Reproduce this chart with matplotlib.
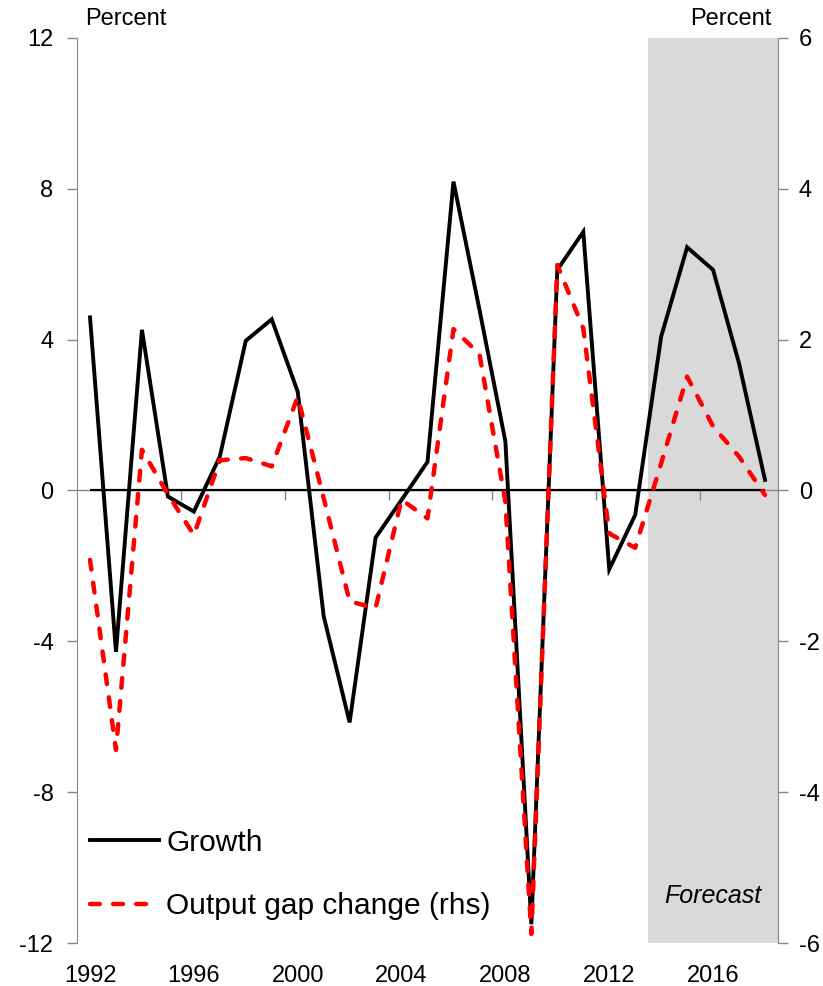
import numpy as np
import matplotlib
matplotlib.use("Agg")
import matplotlib.pyplot as plt

plt.rcParams['font.family'] = ['Liberation Sans', 'DejaVu Sans']
plt.rcParams['axes.unicode_minus'] = False

years = list(range(1992, 2019))
growth = [4.59, -4.28, 4.26, -0.16, -0.56, 0.9, 3.97, 4.54, 2.62, -3.33,
          -6.15, -1.25, -0.25, 0.76, 8.19, 4.8, 1.3, -11.5, 5.85, 6.86,
          -2.09, -0.65, 4.08, 6.45, 5.85, 3.37, 0.28]
gap_change = [-0.92, -3.44, 0.54, -0.05, -0.59, 0.40, 0.43, 0.32, 1.24, -0.1,
              -1.47, -1.56, -0.12, -0.37, 2.14, 1.81, -0.15, -5.88, 2.99, 2.15,
              -0.57, -0.76, 0.36, 1.51, 0.85, 0.45, -0.06]
label_years = [1992, 1996, 2000, 2004, 2008, 2012, 2016]
tick_marks = [1995.5, 1999.5, 2003.5, 2007.5, 2011.5, 2015.5]
forecast_start = 2013.5

grey = '#868686'

fig = plt.figure(figsize=(8.23, 9.86), dpi=100)
ax = fig.add_axes([0.0936, 0.0436, 0.8517, 0.9179])
ax2 = ax.twinx()

# forecast shading
ax.axvspan(forecast_start, years[-1] + 0.5, color='#D9D9D9', lw=0, zorder=0)
ax.text(2016, -10.76, 'Forecast', ha='center', va='center', style='italic', fontsize=18)

# zero line: grey axis across, black series line over the data range
ax.axhline(0, color=grey, lw=1, zorder=1)
ax.hlines(0, years[0], years[-1], color='black', lw=1.6, zorder=2)
ax.plot(tick_marks, np.zeros(len(tick_marks)), ls='none', marker=3,
        markersize=7, mew=1, color=grey, zorder=1)

l1, = ax.plot(years, growth, color='black', lw=2.8, zorder=3,
              solid_joinstyle='miter', label='Growth')
l2, = ax2.plot(years, gap_change, color='#FF0000', lw=3.2,
               ls=(0, (2.2, 3.0)), dash_capstyle='round',
               label='Output gap change (rhs)')

ax.set_xlim(years[0] - 0.5, years[-1] + 0.5)
ax.set_ylim(-12, 12)
ax2.set_ylim(-6, 6)
ax.set_yticks(np.arange(-12, 13, 4))
ax2.set_yticks(np.arange(-6, 7, 2))
ax.set_xticks(label_years)
ax.set_xticklabels([str(y) for y in label_years])

for a in (ax, ax2):
    a.spines['top'].set_visible(False)
    a.spines['bottom'].set_visible(False)
    a.spines['left'].set_color(grey)
    a.spines['right'].set_color(grey)
ax.spines['right'].set_visible(False)
ax2.spines['left'].set_visible(False)

ax.tick_params(axis='x', length=0, pad=16, labelsize=17)
ax.tick_params(axis='y', length=7, width=1, color=grey, pad=10, labelsize=17)
ax2.tick_params(axis='y', length=7, width=1, color=grey, pad=8, labelsize=17)

fig.text(85 / 823, 1 - 19 / 986, 'Percent', ha='left', va='center', fontsize=17)
fig.text(772 / 823, 1 - 19 / 986, 'Percent', ha='right', va='center', fontsize=17)

ax2.legend([l1, l2], ['Growth', 'Output gap change (rhs)'], loc='lower left',
           bbox_to_anchor=(0.0185, 0.025), frameon=False, fontsize=21.5,
           handlelength=2.3, handletextpad=0.25, labelspacing=1.2,
           borderpad=0, borderaxespad=0)

fig.savefig('out.png', dpi=100)
